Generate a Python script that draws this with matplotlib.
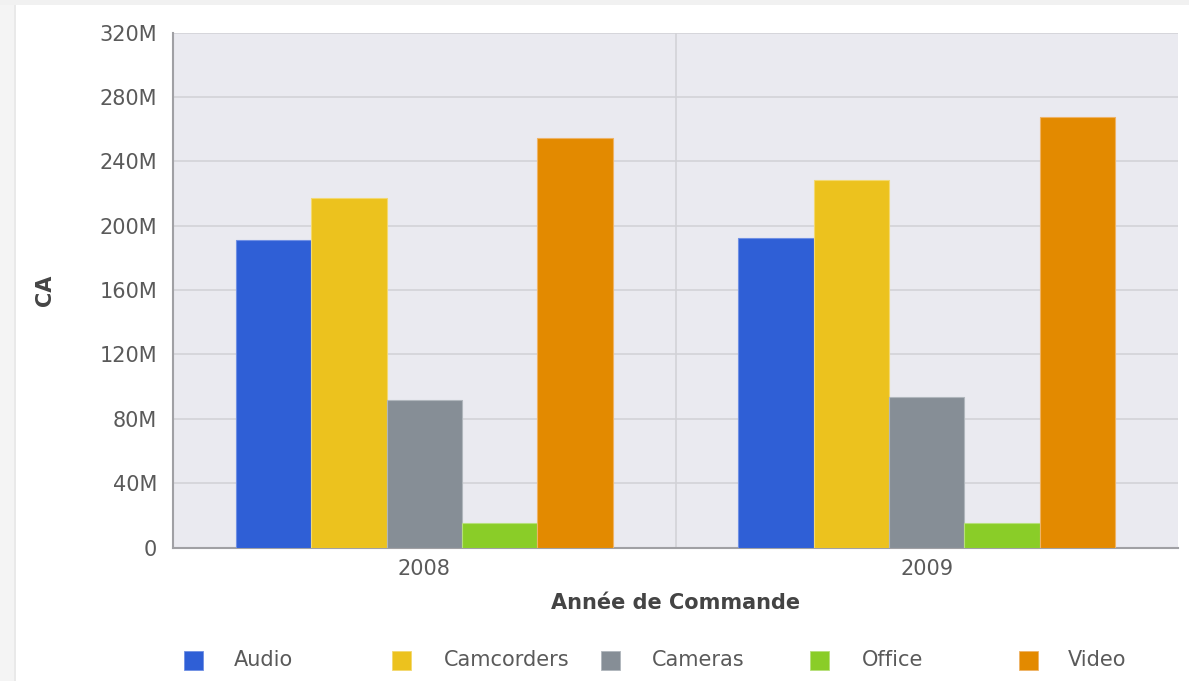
import matplotlib
matplotlib.use("Agg")
import matplotlib.pyplot as plt
from matplotlib.patches import Rectangle
from matplotlib.ticker import FuncFormatter, MultipleLocator
import numpy as np

years = ["2008", "2009"]
series = ["Audio", "Camcorders", "Cameras", "Office", "Video"]
audio = [191.1e6, 192.2e6]
camcorders = [217.4e6, 228.2e6]
cameras = [91.5e6, 93.5e6]
office = [15.0e6, 15.0e6]
video = [254.7e6, 267.4e6]
values = [audio, camcorders, cameras, office, video]
colors = ["#2F5FD6", "#ECC21E", "#868E96", "#8ACD28", "#E38A00"]
edges = ["#6F8FE4", "#F3D870", "#B0B6BC", "#B6E07A", "#EEB366"]

plt.rcParams['font.family'] = ['DejaVu Sans']
W, H = 1189, 681
fig = plt.figure(figsize=(W / 100, H / 100), dpi=100)
fig.patch.set_facecolor("white")

# outer frame shading
fig.patches.append(Rectangle((0, 0), 14 / W, 1, transform=fig.transFigure,
                             facecolor="#F4F4F4", edgecolor="none", zorder=0))
fig.patches.append(Rectangle((0, 1 - 5 / H), 1, 5 / H, transform=fig.transFigure,
                             facecolor="#F1F1F1", edgecolor="none", zorder=0))
fig.patches.append(Rectangle((14 / W, 0), 1.5 / W, 1 - 5 / H, transform=fig.transFigure,
                             facecolor="#E9E9E9", edgecolor="none", zorder=0))

left, right, bottom, top = 173, 1178, 547.5, 32.7
ax = fig.add_axes([left / W, 1 - bottom / H, (right - left) / W, (bottom - top) / H])
ax.set_facecolor("#EAEAF0")

x = np.arange(len(years))
bw = 0.15
for i, (name, vals) in enumerate(zip(series, values)):
    ax.bar(x + (i - 2) * bw, vals, width=bw, color=colors[i], edgecolor=edges[i],
           linewidth=0.8, zorder=3, label=name)

ax.set_xlim(-0.5, 1.5)
ax.set_ylim(0, 320e6)
ax.yaxis.set_major_locator(MultipleLocator(40e6))
ax.yaxis.set_major_formatter(FuncFormatter(lambda v, p: "0" if v == 0 else f"{int(round(v / 1e6))}M"))
ax.set_xticks(x)
ax.set_xticklabels(years)
ax.set_xticks([0.5], minor=True)
ax.grid(axis="y", color="#D2D2D7", linewidth=1.2, zorder=1)
ax.grid(axis="x", which="minor", color="#D2D2D7", linewidth=1.2, zorder=1)
ax.tick_params(axis="both", which="both", length=0, labelsize=15, labelcolor="#5A5A5A")
ax.tick_params(axis="y", pad=11.4)
ax.tick_params(axis="x", pad=8)

for s in ["top", "right"]:
    ax.spines[s].set_visible(False)
for s in ["left", "bottom"]:
    ax.spines[s].set_color("#A0A0A4")
    ax.spines[s].set_linewidth(1.5)

ax.set_ylabel("CA", fontsize=15, fontweight="bold", color="#444444")
ax.yaxis.set_label_coords((55 - left) / (right - left), 0.5)
ax.set_xlabel("Année de Commande", fontsize=15, fontweight="bold", color="#444444")
ax.xaxis.set_label_coords(0.5, (bottom - 593) / (bottom - top))

# legend
hx = [184, 392, 601, 810, 1019]
tx = [234, 444, 652, 862, 1068]
ly = 660
sq = 19
for i, name in enumerate(series):
    fig.patches.append(Rectangle((hx[i] / W, 1 - (ly + sq / 2) / H), sq / W, sq / H,
                                 transform=fig.transFigure, facecolor=colors[i],
                                 edgecolor=edges[i], linewidth=0.6))
    fig.text(tx[i] / W, 1 - ly / H, name, fontsize=15, color="#5A5A5A",
             ha="left", va="center")

fig.savefig("out.png", dpi=100, facecolor=fig.get_facecolor())
